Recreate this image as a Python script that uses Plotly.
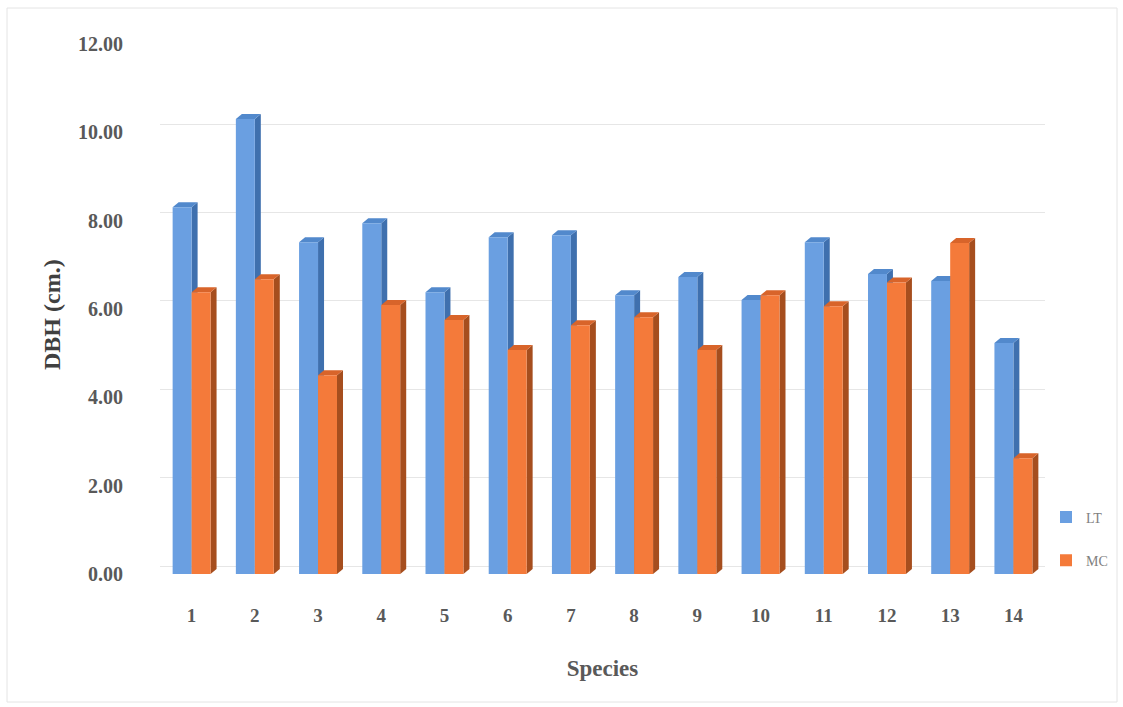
import plotly.graph_objects as go

# Mean DBH per species at the two sites
species = list(range(1, 15))
lt_dbh = [8.30, 10.30, 7.51, 7.94, 6.38, 7.62, 7.67, 6.31, 6.72, 6.20, 7.51, 6.79, 6.63, 5.23]
mc_dbh = [6.38, 6.67, 4.50, 6.09, 5.75, 5.07, 5.63, 5.81, 5.07, 6.31, 6.06, 6.60, 7.49, 2.62]
y_ticks = [0, 2, 4, 6, 8, 10, 12]
y_tick_text = ["%.2f" % v for v in y_ticks]

W, H = 1123, 707
M_L, M_R, M_T, M_B = 160, 78, 35, 133
X_RANGE = [0.5, 14.5]
Y_RANGE = [0, 12.2]

BAR_W = 0.30  # width of each front face in category units
plot_w = W - M_L - M_R
plot_h = H - M_T - M_B
px_x = plot_w / (X_RANGE[1] - X_RANGE[0])
px_y = plot_h / (Y_RANGE[1] - Y_RANGE[0])
DX = 6 / px_x  # depth of the extruded bars
DY = 5 / px_y
WALL = 8 / px_y  # back wall sits a little above the front plane

series = [
    dict(name="LT", values=lt_dbh, offset=-BAR_W,
         front="#6A9FE1", side="#3F70AE", top="#5289CC"),
    dict(name="MC", values=mc_dbh, offset=0.0,
         front="#F47A3A", side="#A64E1E", top="#D8642A"),
]


def px_to_paper_x(px):
    return (px - M_L) / plot_w


def px_to_paper_y(py):
    return (H - M_B - py) / plot_h


fig = go.Figure()

# back-wall gridlines on an overlaid axis, shifted upward
fig.add_trace(go.Scatter(x=[None], y=[None], yaxis="y2", showlegend=False, hoverinfo="skip"))

shapes = []
for s in series:
    fig.add_trace(go.Bar(
        x=species, y=s["values"], name=s["name"],
        width=BAR_W, offset=s["offset"],
        marker=dict(color=s["front"], line=dict(width=0)),
        legendgroup=s["name"],
    ))
    for c, v in zip(species, s["values"]):
        x0 = c + s["offset"]
        x1 = x0 + BAR_W
        # right-hand side face
        shapes.append(dict(
            type="path", xref="x", yref="y", layer="between",
            path=f"M {x1},0 L {x1 + DX},{DY} L {x1 + DX},{v + DY} L {x1},{v} Z",
            fillcolor=s["side"], line=dict(width=0),
        ))
        # top face
        shapes.append(dict(
            type="path", xref="x", yref="y", layer="between",
            path=f"M {x0},{v} L {x1},{v} L {x1 + DX},{v + DY} L {x0 + DX},{v + DY} Z",
            fillcolor=s["top"], line=dict(width=0),
        ))

# light frame around the whole chart
shapes.append(dict(type="rect", xref="paper", yref="paper",
                   x0=px_to_paper_x(7), x1=px_to_paper_x(1117),
                   y0=px_to_paper_y(702), y1=px_to_paper_y(8), layer="below",
                   line=dict(color="#E4E4E4", width=1)))

fig.update_layout(
    width=W, height=H,
    margin=dict(l=M_L, r=M_R, t=M_T, b=M_B, autoexpand=False),
    paper_bgcolor="white", plot_bgcolor="white",
    font=dict(family="Liberation Serif, Times New Roman, serif", color="#595959"),
    barmode="overlay",
    showlegend=True,
    legend=dict(x=px_to_paper_x(1046), y=px_to_paper_y(539), xanchor="left", yanchor="middle",
                font=dict(size=14, color="#7F7F7F"),
                tracegroupgap=22, itemwidth=30,
                bgcolor="rgba(0,0,0,0)"),
    xaxis=dict(
        range=X_RANGE, tickmode="array", tickvals=species,
        ticktext=[f"<b>{c}</b>" for c in species],
        showgrid=False, zeroline=False, showline=False, ticks="",
        tickfont=dict(size=19, color="#595959"),
        ticklabelstandoff=28,
        title=dict(text="<b>Species</b>", font=dict(size=23, color="#595959"),
                   standoff=34),
    ),
    yaxis=dict(
        range=Y_RANGE, tickmode="array", tickvals=y_ticks,
        ticktext=[f"<b>{t}</b>" for t in y_tick_text],
        showgrid=False, zeroline=False, showline=False, ticks="",
        tickfont=dict(size=20, color="#595959"),
        ticklabelstandoff=36,
    ),
    yaxis2=dict(
        overlaying="y", range=[Y_RANGE[0] - WALL, Y_RANGE[1] - WALL],
        tickmode="array", tickvals=y_ticks, showticklabels=False,
        showgrid=True, gridcolor="#E6E6E6", gridwidth=1,
        zeroline=False, showline=False, ticks="",
    ),
    annotations=[dict(
        text="<b>DBH (cm.)</b>", textangle=-90, showarrow=False,
        xref="paper", yref="paper",
        x=px_to_paper_x(52), y=px_to_paper_y(315),
        xanchor="center", yanchor="middle",
        font=dict(size=24, color="#404040"),
    )],
    shapes=shapes,
)

fig.write_html("out.html")
